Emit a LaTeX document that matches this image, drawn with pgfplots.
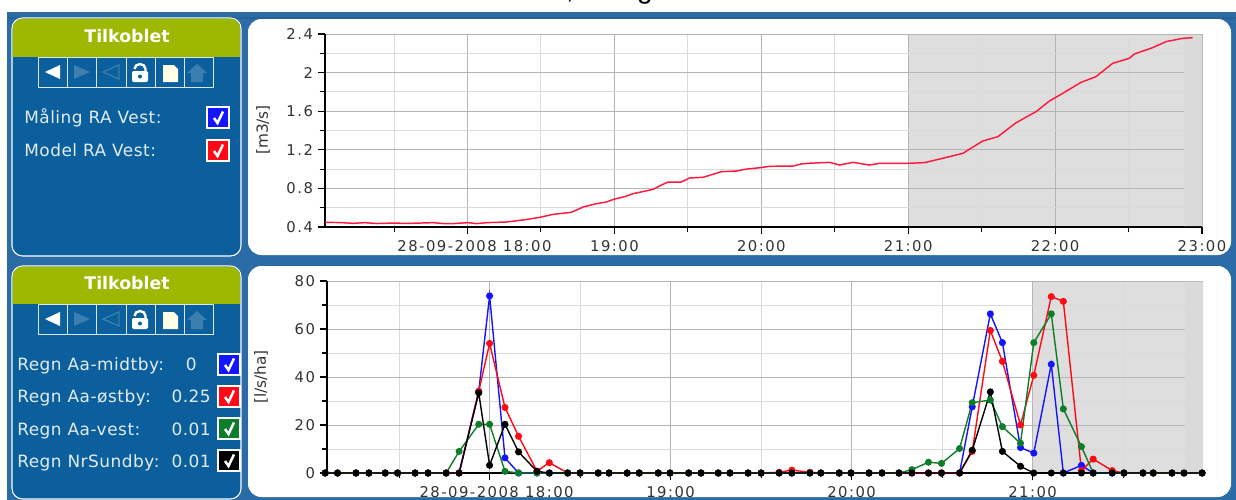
\documentclass[border=0pt]{standalone}
\usepackage{fontspec}
\usepackage{pgfplots}
\usepackage{pgfplotstable}
\pgfplotsset{compat=1.18}
\setmainfont{DejaVu Sans}
\newfontfamily\tickfont[LetterSpace=10]{DejaVu Sans}
\newfontfamily\panelfont[LetterSpace=3]{DejaVu Sans}
\newfontfamily\topfont{Liberation Sans}
\definecolor{outerblue}{HTML}{2B6CA6}
\definecolor{panelblue}{HTML}{0A5F9C}
\definecolor{headgreen}{HTML}{9DB800}
\definecolor{dimicon}{HTML}{3A7FB0}
\definecolor{gmaj}{HTML}{B4B4B4}
\definecolor{gmin}{HTML}{DADADA}
\definecolor{greyzone}{HTML}{DEDEDE}
\definecolor{greyband}{HTML}{DADADA}
\definecolor{curve}{HTML}{FF1A3C}
\definecolor{sblue}{HTML}{1414FF}
\definecolor{sred}{HTML}{FF0A14}
\definecolor{sgreen}{HTML}{0E7D2A}
\definecolor{txt}{HTML}{333333}

\pgfplotstableread{
x y
-58.2 0.448
-52.0 0.446
-46.7 0.438
-42.0 0.445
-37.0 0.436
-30.1 0.441
-25.0 0.437
-19.5 0.441
-14.0 0.445
-10.0 0.436
-5.9 0.435
0.2 0.445
3.7 0.435
7.8 0.445
15.9 0.452
22.7 0.473
29.5 0.500
34.9 0.531
42.4 0.552
47.2 0.607
52.7 0.642
56.7 0.659
60.1 0.690
64.2 0.714
67.6 0.745
75.8 0.790
79.2 0.835
81.9 0.866
87.3 0.866
90.7 0.908
96.2 0.915
103.7 0.973
109.8 0.980
113.9 1.000
119.6 1.015
123.4 1.029
132.9 1.032
136.3 1.053
139.0 1.060
147.9 1.070
152.0 1.042
157.4 1.070
164.2 1.042
168.3 1.060
179.8 1.060
186.7 1.067
194.1 1.112
202.3 1.163
210.4 1.291
216.6 1.336
224.1 1.481
232.2 1.595
237.7 1.706
243.1 1.785
250.6 1.899
256.7 1.958
263.5 2.096
270.3 2.148
272.4 2.193
279.8 2.258
285.3 2.321
292.1 2.355
296.2 2.362
}\flowtable

\pgfplotstableread{
x b r g k
-54.5 0 0 0 0
-50.4 0 0 0 0
-44.3 0 0 0 0
-40.0 0 0 0 0
-34.6 0 0 0 0
-30.5 0 0 0 0
-24.7 0 0 0 0
-20.4 0 0 0 0
-14.4 0 0 0 0
-10.1 0 0 9 0
-3.6 34 34 20.3 33.4
0.0 73.8 54 20.3 3.2
5.1 6.3 27.3 0.7 20.3
9.6 0 15.3 0 8.8
15.7 0 0.8 0 0.7
19.8 0 4.3 0 0
25.9 0 0 0 0
30.0 0 0 0 0
36.0 0 0 0 0
39.6 0 0 0 0
45.6 0 0 0 0
49.6 0 0 0 0
55.9 0 0 0 0
59.8 0 0 0 0
66.0 0 0 0 0
70.1 0 0 0 0
75.8 0 0 0 0
79.7 0 0 0 0
85.7 0 0 0 0
90.0 0 0 0 0
96.0 0 0.3 0 0
100.2 0 1.2 0 0
106.2 0 0.3 0 0
109.8 0 0 0 0
115.9 0 0 0 0
119.8 0 0 0 0
125.8 0 0 0 0
130.1 0 0 0 0
135.7 0 0 0 0
140.0 0 0 1.4 0
145.5 0 0 4.5 0
149.8 0 0 4 0
155.8 0 0 10.2 0
160.0 27.6 9 29.3 9.5
166.0 66.3 59.4 30.4 33.8
170.0 54.3 46.5 19.3 9
176.0 10.6 20 12.4 2.8
180.4 8.3 40.7 54.3 0
186.2 45.3 73.5 66.3 0
190.2 0 71.5 26.7 0
196.2 3.2 1 11 0
200.1 0 5.8 0 0
206.4 0 1 0 0
210.3 0 0 0 0
216.6 0 0 0 0
220.0 0 0 0 0
226.2 0 0 0 0
230.2 0 0 0 0
236.2 0 0 0 0
}\raintable

\pgfplotsset{
  panelaxis/.style={
    scale only axis,
    axis x line=bottom, axis y line=left,
    axis line style={-, black, line width=0.9pt},
    clip=false,
    grid=both,
    major grid style={gmaj, line width=0.75pt},
    minor grid style={gmin, line width=0.75pt},
    tick style={black, line width=0.8pt},
    major tick length=5.5pt,
    minor tick length=4pt,
    tick align=outside,
    tick label style={font=\fontsize{11.1}{12}\tickfont, text=txt},
    /pgf/number format/assume math mode=true,
    /pgf/number format/fixed,
    xticklabel style={yshift=-1pt},
    scaled ticks=false,
  },
  series/.style={#1, line width=1.05pt, mark=*, mark size=2.1pt, mark options={solid, fill=#1, draw=#1}},
}

\newcommand{\toolbar}[1]{%
  \begin{scope}[shift={(0,#1)}]
    \draw[white!85!panelblue, line width=0.75pt] (38,0) rectangle (213,30);
    \foreach \xx in {67.5,96.5,126,155,184.5} \draw[white!85!panelblue, line width=0.75pt] (\xx,0) -- (\xx,30);
    \fill[white] (45,15) -- (60,8) -- (60,22) -- cycle;
    \fill[dimicon] (90,15) -- (74,8) -- (74,22) -- cycle;
    \draw[dimicon, line width=1pt] (103,15) -- (119,8) -- (119,22) -- cycle;
    \fill[white, rounded corners=1pt] (132,14) rectangle (148,25);
    \draw[white, line width=1.8pt] (134.5,12) arc[start angle=180, end angle=360, x radius=5.5, y radius=5] -- (145.5,15);
    \fill[panelblue] (140,19.5) circle (2);
    \fill[white!90!yellow] (163,8) -- (174,8) -- (178,12) -- (178,25) -- (163,25) -- cycle;
    \fill[dimicon] (197,7) -- (207,16) -- (203,16) -- (203,25) -- (191,25) -- (191,16) -- (187,16) -- cycle;
  \end{scope}}
\newcommand{\chk}[3]{%
  \begin{scope}[shift={(#1,#2)}]
    \fill[#3, draw=white, line width=0.8pt] (0,0) rectangle (22,21);
    \draw[white, line width=1.9pt] (7,11) -- (10.5,16) -- (16,4.5);
  \end{scope}}
\newcommand{\rowlab}[3]{%
  \node[anchor=base west, inner sep=0pt, font=\fontsize{12.7}{14}\panelfont, text=white!88!panelblue] at (17,#1) {#2};
  \node[anchor=base east, inner sep=0pt, font=\fontsize{12.7}{14}\panelfont, text=white!88!panelblue] at (#3,#1) {\rowval};}

\begin{document}
\begin{tikzpicture}[x=0.75pt, y=-0.75pt]
\useasboundingbox (0,0) rectangle (1236,500);
\clip (0,0) rectangle (1236,500);
\fill[white] (0,0) rectangle (1236,500);
\fill[outerblue] (7,12) rectangle (1236,500);
\fill[black!10!outerblue] (7,17) rectangle (1236,19);
% clipped line of text above the frame
\begin{scope}
  \clip (0,0) rectangle (1236,12);
  \node[anchor=base, font=\fontsize{21}{24}\topfont, text=black, inner sep=0pt] at (570,-1.5) {,};
  \node[anchor=base, font=\fontsize{21}{24}\topfont, text=black, inner sep=0pt] at (645,-1.5) {g};
\end{scope}

% left panels
\fill[panelblue, draw=white, line width=0.8pt, rounded corners=8pt] (12,18) rectangle (241,256);
\begin{scope}
  \clip[rounded corners=8pt] (12.5,18.5) rectangle (240.5,255.5);
  \fill[headgreen] (12,18) rectangle (241,57);
\end{scope}
\node[font=\fontsize{13}{15}\bfseries, text=white] at (127,36) {Tilkoblet};
\toolbar{57}
\node[anchor=base west, inner sep=0pt, font=\fontsize{12.7}{14}\panelfont, text=white!88!panelblue] at (24,123) {Måling RA Vest:};
\node[anchor=base west, inner sep=0pt, font=\fontsize{12.7}{14}\panelfont, text=white!88!panelblue] at (24,156) {Model RA Vest:};
\chk{207}{107}{sblue}
\chk{207}{140}{sred}

\fill[panelblue, draw=white, line width=0.8pt, rounded corners=8pt] (12,266) rectangle (241,499);
\begin{scope}
  \clip[rounded corners=8pt] (12.5,266.5) rectangle (240.5,498.5);
  \fill[headgreen] (12,266) rectangle (241,304);
\end{scope}
\node[font=\fontsize{13}{15}\bfseries, text=white] at (127,283) {Tilkoblet};
\toolbar{304}
\def\rowval{0}\rowlab{370}{Regn Aa-midtby:}{197}
\def\rowval{0.25}\rowlab{402}{Regn Aa-østby:}{211}
\def\rowval{0.01}\rowlab{435}{Regn Aa-vest:}{211}
\def\rowval{0.01}\rowlab{467}{Regn NrSundby:}{211}
\chk{218}{354}{sblue}
\chk{218}{386}{sred}
\chk{218}{418}{sgreen}
\chk{218}{450}{black}

% chart panels
\fill[white, rounded corners=10pt] (248,19) rectangle (1231,255);
\fill[white, rounded corners=10pt] (248,266) rectangle (1231,497);
\fill[greyzone] (908,34) rectangle (1202,227);
\fill[greyzone] (1033,281) rectangle (1203,473);

\node[rotate=90, font=\fontsize{11.5}{13}\selectfont, text=txt] at (263,130) {[m3/s]};
\node[rotate=90, font=\fontsize{11.5}{13}\selectfont, text=txt] at (261,377) {[l/s/ha]};

\begin{axis}[panelaxis,
  at={(243.75pt,-170.25pt)}, anchor=south west,
  width=657.75pt, height=144.75pt,
  xmin=-58.2, xmax=300, ymin=0.4, ymax=2.4,
  xtick={0,60,120,180,240,300},
  xticklabels={\hspace*{10.5pt}28-09-2008 18:00,19:00,20:00,21:00,22:00,23:00},
  minor xtick={-30,30,90,150,210,270},
  ytick={0.4,0.8,1.2,1.6,2,2.4},
  minor ytick={0.6,1,1.4,1.8,2.2},
]
\addplot[fill=greyband, draw=none] coordinates {(292.8,0.41) (300,0.41) (300,2.39) (292.8,2.39)} \closedcycle;
\addplot[curve, line width=1.1pt] table[x=x, y=y] {\flowtable};
\end{axis}

\begin{axis}[panelaxis,
  at={(245.25pt,-354.75pt)}, anchor=south west,
  width=657pt, height=144pt,
  xmin=-53.9, xmax=236.5, ymin=0, ymax=80,
  xtick={0,60,120,180},
  xticklabels={\hspace*{10.5pt}28-09-2008 18:00,19:00,20:00,21:00},
  minor xtick={-30,30,90,150,210},
  ytick={0,20,40,60,80},
  minor ytick={10,30,50,70},
]
\addplot[fill=greyband, draw=none] coordinates {(230.5,0.3) (236.5,0.3) (236.5,79.7) (230.5,79.7)} \closedcycle;
\addplot[series=sblue] table[x=x, y=b] {\raintable};
\addplot[series=sred] table[x=x, y=r] {\raintable};
\addplot[series=sgreen] table[x=x, y=g] {\raintable};
\addplot[series=black] table[x=x, y=k] {\raintable};
\end{axis}
\end{tikzpicture}
\end{document}
